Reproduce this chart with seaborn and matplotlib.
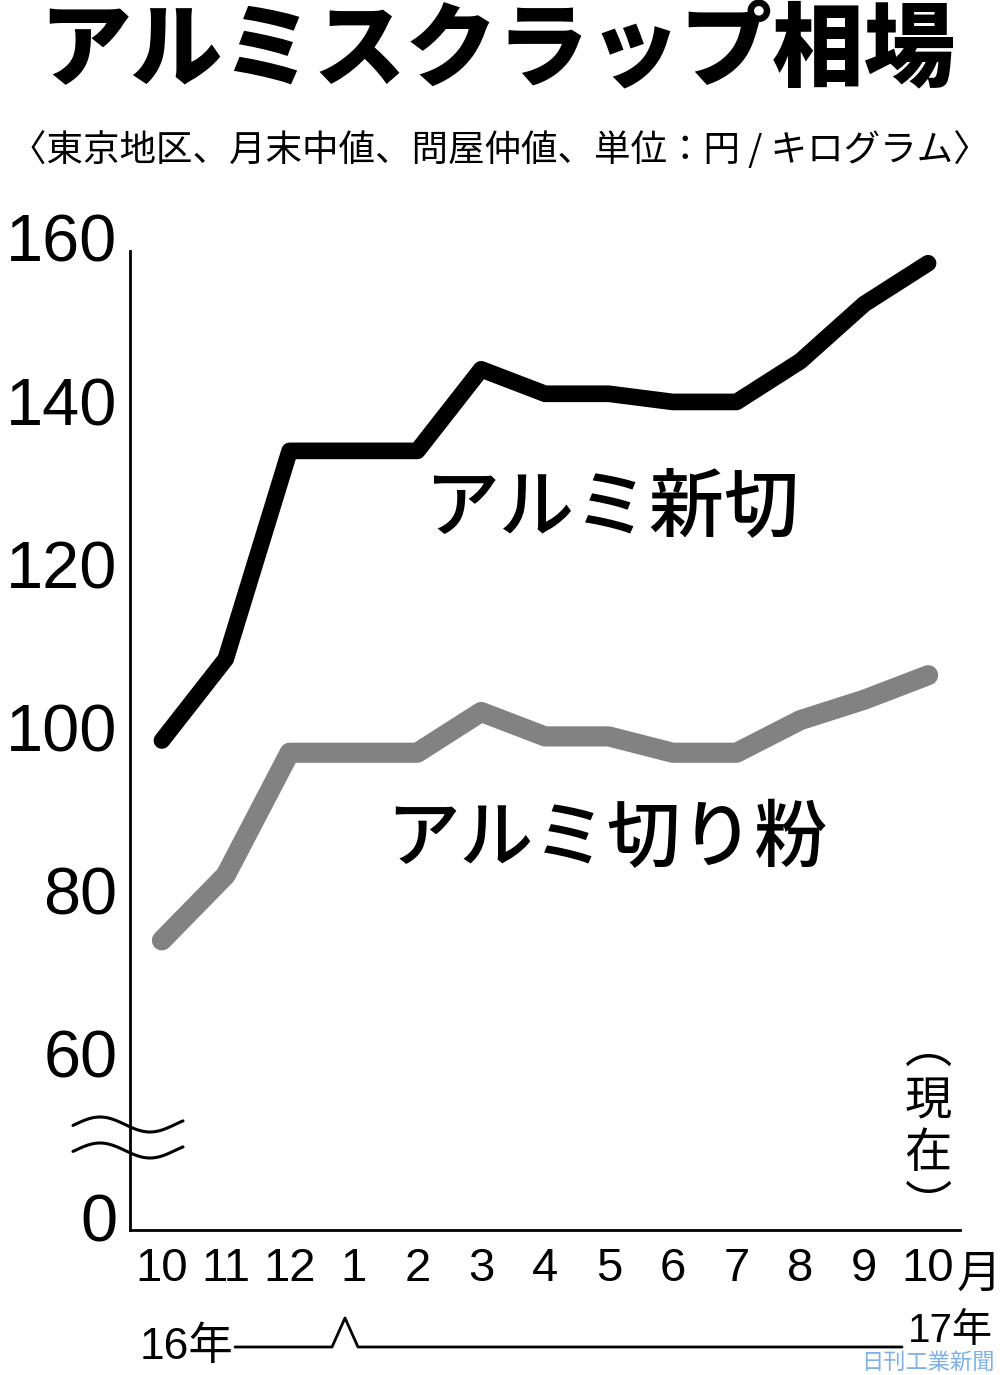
import numpy as np
import pandas as pd
import matplotlib
matplotlib.use("Agg")
import matplotlib.pyplot as plt
import matplotlib.transforms as mtransforms
from matplotlib import font_manager as fm
from matplotlib.lines import Line2D
import seaborn as sns

# Data (yen per kg)
months = ["10", "11", "12", "1", "2", "3", "4", "5", "6", "7", "8", "9", "10"]
new_scrap = [100, 110, 135.5, 135.5, 135.5, 145.5, 142.5, 142.5, 141.5, 141.5, 146.5, 153.5, 158.5]
chips = [75.5, 83.5, 98.5, 98.5, 98.5, 103.5, 100.5, 100.5, 98.5, 98.5, 102.5, 105, 108]
yticks = [0, 60, 80, 100, 120, 140, 160]

sns.set_style("white", {"text.color": "black", "xtick.color": "black",
                        "ytick.color": "black", "axes.labelcolor": "black",
                        "axes.edgecolor": "black"})
names = {f.name for f in fm.fontManager.ttflist}
NARROW = "Liberation Sans Narrow" in names
num_font = "Liberation Sans Narrow" if NARROW else "Liberation Sans"
jp = "Noto Sans CJK JP"
plt.rcParams["font.family"] = [num_font, jp, "DejaVu Sans"]

df = pd.DataFrame({"idx": np.arange(len(months)), "new": new_scrap, "chips": chips})

fig = plt.figure(figsize=(10, 13.75), dpi=100)
ax = fig.add_axes([0.13, 145 / 1375, 0.83, 979 / 1375])

sns.lineplot(data=df, x="idx", y="chips", color="#828282", linewidth=14.5,
             solid_capstyle="round", solid_joinstyle="round", ax=ax)
sns.lineplot(data=df, x="idx", y="new", color="black", linewidth=12,
             solid_capstyle="round", solid_joinstyle="round", ax=ax)


# broken axis: 0-60 squeezed into one tick step
def fwd(y):
    y = np.asarray(y, dtype=float)
    return np.where(y >= 60, y, 40 + y / 3)


def inv(z):
    z = np.asarray(z, dtype=float)
    return np.where(z >= 60, z, (z - 40) * 3)


ax.set_yscale("function", functions=(fwd, inv))
ax.set_ylim(0, 160)
ax.set_xlim(-0.5, 12.5)

ax.set_yticks(yticks)
ax.set_yticklabels([str(v) for v in yticks])
ax.set_xticks(np.arange(0.5, 13, 1))
ax.set_xticklabels([])
ax.set_xticks(np.arange(len(months)), minor=True)
ax.set_xticklabels(months, minor=True)

ysize = 57 if NARROW else 48
xsize = 40 if NARROW else 34
ax.tick_params(axis="y", direction="in", length=14.5, width=2, pad=9,
               labelsize=ysize, colors="black")
ax.tick_params(axis="x", which="major", direction="in", length=16.5, width=2)
ax.tick_params(axis="x", which="minor", length=0, pad=12, labelsize=xsize)
for lab in ax.get_yticklabels():
    lab.set_transform(lab.get_transform() +
                      mtransforms.ScaledTranslation(0, 0.13, fig.dpi_scale_trans))

for s in ["top", "right"]:
    ax.spines[s].set_visible(False)
for s in ["left", "bottom"]:
    ax.spines[s].set_linewidth(2)
ax.set_xlabel("")
ax.set_ylabel("")

# "月" after the last month label
ax.text(12.45, -0.045, "月", transform=ax.get_xaxis_transform(), ha="left",
        va="center", fontsize=xsize - 2, family=[jp])

# break marks on the y axis (figure pixels -> fraction)
W, H = 1000, 1375
xs = np.linspace(73, 183, 80)
for c in (1124.5, 1150.5):
    ys = c - 7.5 * np.cos(2 * np.pi * (xs - 100) / 100)
    fig.add_artist(Line2D(xs / W, 1 - ys / H, color="black", lw=2.2))

# titles
fig.text(0.497, 1 - 52 / H, "アルミスクラップ相場", ha="center", va="center",
         fontsize=66, fontweight="heavy", family=[jp])
fig.text(0.5, 1 - 150 / H, "〈東京地区、月末中値、問屋仲値、単位：円 / キログラム〉",
         ha="center", va="center", fontsize=26.3, family=[jp])

# series labels
fig.text(0.612, 1 - 510 / H, "アルミ新切", ha="center", va="center",
         fontsize=54, fontweight=500, family=[jp])
fig.text(0.607, 1 - 840 / H, "アルミ切り粉", ha="center", va="center",
         fontsize=53, fontweight=500, family=[jp])

# (現在) written vertically
fig.text(0.928, 1 - 1128 / H, "︵\n現\n在\n︶", ha="center", va="center",
         fontsize=34, family=[jp], linespacing=1.1)

# year line under the month labels
fig.text(0.14, 1 - 1347 / H, "16年", ha="left", va="center", fontsize=32,
         family=[num_font, jp])
fig.text(0.908, 1 - 1331 / H, "17年", ha="left", va="center", fontsize=29,
         family=[num_font, jp])
yx = [235, 332, 345, 358, 902]
yy = [1347, 1347, 1318, 1347, 1347]
fig.add_artist(Line2D(np.array(yx) / W, 1 - np.array(yy) / H, color="black", lw=2))

fig.text(0.995, 1 - 1374 / H, "日刊工業新聞", ha="right", va="bottom",
         fontsize=16, color="#7fb0e6", family=[jp])

fig.savefig("out.png", dpi=100)
